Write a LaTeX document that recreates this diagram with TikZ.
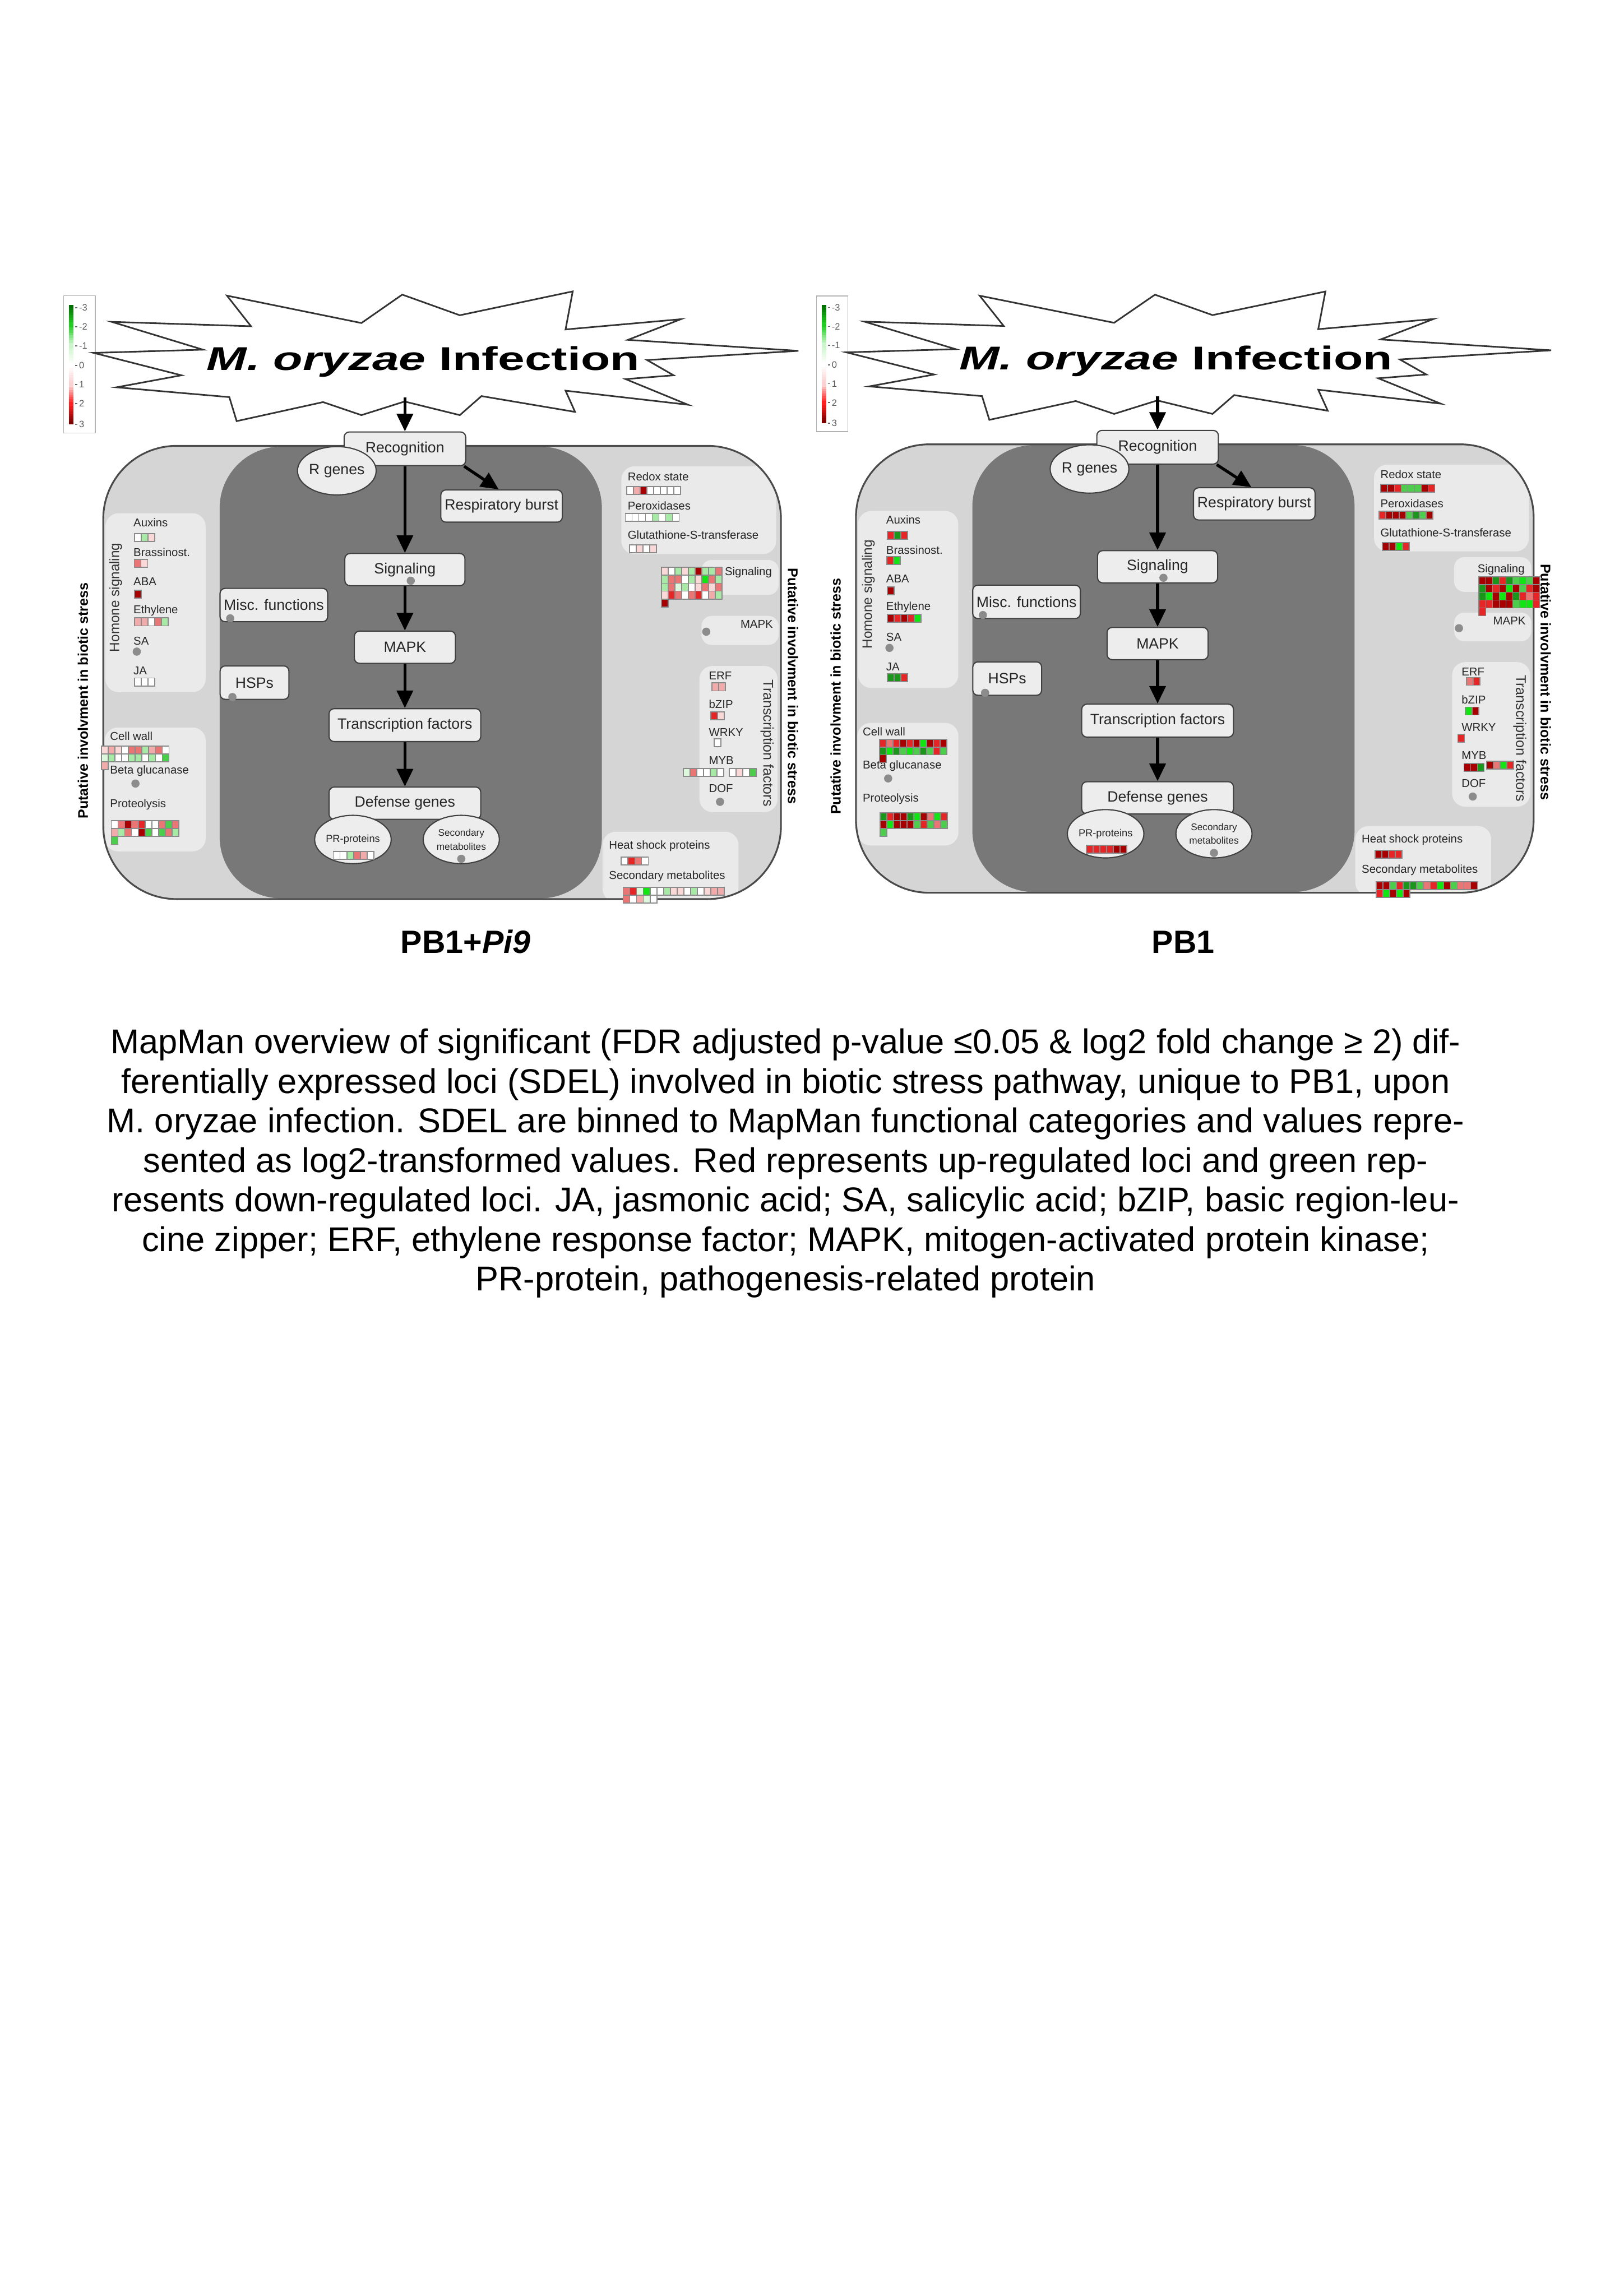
\documentclass[tikz,border=0pt]{standalone}
\usepackage{graphicx}
\usepackage{fontspec}
\setmainfont{Liberation Sans}
\usetikzlibrary{arrows.meta,shapes.geometric}
\definecolor{regL}{HTML}{D5D5D5}
\definecolor{regD}{HTML}{787878}
\definecolor{ibox}{HTML}{EAEAEA}
\definecolor{nbox}{HTML}{EDEDED}
\definecolor{edge}{HTML}{4A4A4A}
\definecolor{dotc}{HTML}{8C8C8C}
\definecolor{hmline}{HTML}{8A8A8A}
\definecolor{hW}{HTML}{FFFFFF}
\definecolor{hP1}{HTML}{FAD8D8}
\definecolor{hP2}{HTML}{F2ABAB}
\definecolor{hP3}{HTML}{EA7575}
\definecolor{hR}{HTML}{E62626}
\definecolor{hD}{HTML}{A80000}
\definecolor{hG1}{HTML}{DDF7DD}
\definecolor{hG2}{HTML}{A6EAA6}
\definecolor{hG3}{HTML}{4CCD4C}
\definecolor{hG4}{HTML}{12E612}
\definecolor{hDG}{HTML}{1A961A}
\definecolor{lgDG}{HTML}{006E00}
\definecolor{lgG}{HTML}{22CC22}
\definecolor{lgPG}{HTML}{CCF5CC}
\definecolor{lgPR}{HTML}{FAD0D0}
\definecolor{lgR}{HTML}{FF2020}
\definecolor{lgDR}{HTML}{7A0000}
\newcommand\fs[1]{\fontsize{#1}{#1}\selectfont}
\def\hmw{4.6}
\def\hmh{5.4}
\newcommand\hmrow[3]{\foreach \hmc [count=\hmi from 0] in {#3}{\filldraw[fill=\hmc,draw=hmline,line width=0.7] ({#1+\hmi*\hmw},{#2}) rectangle ++(\hmw,\hmh);}}
\newcommand\gseg[4]{\foreach \gk in {0,...,7}{\pgfmathtruncatemacro\gpct{100-\gk*100/7}\fill[#3!\gpct!#4] (47.1,{#1+\gk*(#2-#1)/8}) rectangle (50.3,{#1+(\gk+1)*(#2-#1)/8+0.25});}}
\tikzset{
  nbx/.style={draw=black!75, fill=nbox, line width=0.8, rounded corners=3.5, inner sep=0, font=\fs{10.2}, text=black!85},
  ell/.style={ellipse, draw=black!75, fill=nbox, line width=0.8, inner sep=0, text=black!85},
  lab/.style={anchor=west, inner sep=0, font=\fs{7.8}, text=black!85},
  arr/.style={-{Triangle[length=12pt,width=11pt]}, line width=2, black},
  starsh/.style={draw=black!80, line width=1.1, fill=white, line join=miter},
}
\newcommand\outershape{(70.5,304.5) rectangle (533.3,614)}
\newcommand\panel[1]{%
  % colour legend
  \draw[black!30, fill=white, line width=0.6] (43.5,202) rectangle (65,295.8);
  \gseg{208.3}{222}{lgDG}{lgG}
  \gseg{222}{236}{lgG}{lgPG}
  \gseg{236}{249.5}{lgPG}{white}
  \gseg{249.5}{263}{white}{lgPR}
  \gseg{263}{276}{lgPR}{lgR}
  \gseg{276}{289.5}{lgR}{lgDR}
  \foreach \yy/\vv [count=\li] in {210.1/-3,223.2/-2,236.2/-1,249.6/0,262.7/1,275.7/2,289.9/3}{
    \draw[black!60, line width=0.6] (51.3,\yy) -- (53,\yy);
    \node[anchor=west, inner sep=0, font=\fs{6.3}, text=black!65] (#1lg\li) at (53.8,\yy) {\vv};
  }
  % starburst
  \filldraw[starsh] (64,241) -- (138.6,238.8) -- (76.3,219.8) -- (171.4,222.8) -- (155,201.9) -- (246.8,220.6) -- (274.7,201.2) -- (314,215.3) -- (391.1,199) -- (386.2,225) -- (464.9,218) -- (428.8,232.1) -- (545.2,239.6) -- (441.9,245.9) -- (460,256.3) -- (427.2,258.9) -- (469.8,276.4) -- (386.2,266.8) -- (392.7,281.3) -- (328.8,270.5) -- (314,283.5) -- (276.3,274.2) -- (246.8,283.5) -- (220.6,274.6) -- (161.6,287.6) -- (156.6,271.2) -- (79.6,264.5) -- (123.9,256.3) -- cycle;
  \node[inner sep=0, anchor=base] (#1title) at (289,253) {\scalebox{1.46}[1]{\fs{22.5}\bfseries\textit{M. oryzae} Infection}};
  % regions
  \fill[regL, rounded corners=50] \outershape;
  \fill[regD, rounded corners=42] (150,305) rectangle (411,613.5);
  \begin{scope}
    \clip[rounded corners=50] \outershape;
    \fill[ibox, rounded corners=9] (72,350.5) rectangle (140.4,472.7);
    \fill[ibox, rounded corners=9] (71.5,496.8) rectangle (140.5,581.4);
    \fill[ibox, rounded corners=9] (424.3,318.5) rectangle (530,378.4);
    \fill[ibox, rounded corners=7] (479,382.4) rectangle (531.7,406.3);
    \fill[ibox, rounded corners=7] (479,420.6) rectangle (531.7,440.5);
    \fill[ibox, rounded corners=9] (477.6,454.8) rectangle (531,554.6);
    \fill[ibox, rounded corners=9] (411.5,568) rectangle (504.3,616);
  \end{scope}
  \draw[edge, line width=1.2, rounded corners=50] \outershape;
  % pathway boxes
  \node[nbx, minimum width=83, minimum height=23] (#1rec) at (276.5,306.5) {Recognition};
  \node[ell, minimum width=48, minimum height=33, font=\fs{10.2}] (#1rg) at (230,321.5) {R genes};
  \node[nbx, minimum width=83, minimum height=22] (#1resp) at (342.5,345.6) {Respiratory burst};
  \node[nbx, minimum width=82, minimum height=22] (#1sig) at (276.5,389) {Signaling};
  \node[nbx, minimum width=69, minimum height=22] (#1mapk) at (276.5,442) {MAPK};
  \node[nbx, minimum width=103.6, minimum height=22.5] (#1tf) at (276.5,495.2) {Transcription factors};
  \node[nbx, minimum width=103.6, minimum height=22] (#1def) at (276.5,548.5) {Defense genes};
  \node[nbx, minimum width=73.5, minimum height=22.8] (#1misc) at (187,413.2) {Misc. functions};
  \node[nbx, minimum width=47, minimum height=22.8] (#1hsp) at (173.8,466.2) {HSPs};
  \node[ell, minimum width=52, minimum height=33, font=\fs{7}] (#1pr) at (241,573.3) {PR-proteins};
  \node[ell, minimum width=52, minimum height=33, font=\fontsize{6.6}{9.5}\selectfont, align=center] (#1sec) at (315,573.3) {Secondary\\metabolites};
  % arrows
  \coordinate (#1top) at (276.5,271.5);
  \draw[arr] (#1top) -- (#1rec);
  \draw[arr] (#1rec) -- (#1sig);
  \draw[arr] (#1sig) -- (#1mapk);
  \draw[arr] (#1mapk) -- (#1tf);
  \draw[arr] (#1tf) -- (#1def);
  \draw[arr] ([xshift=-1.5pt]#1rec.south east) -- ([xshift=-2pt]#1resp.north);
  % grey dots
  \fill[dotc] (280.5,396.6) circle (2.8);
  \fill[dotc] (157.2,422.3) circle (2.8);
  \fill[dotc] (158.7,476) circle (2.8);
  \fill[dotc] (315,586.5) circle (2.8);
  \fill[dotc] (93.4,445) circle (2.8);
  \fill[dotc] (92.5,535.1) circle (2.8);
  \fill[dotc] (482.3,431.4) circle (2.8);
  \fill[dotc] (491.7,547.6) circle (2.8);
  % category labels
  \node[lab] (#1aux) at (91,356.7) {Auxins};
  \node[lab] (#1bra) at (91,377.3) {Brassinost.};
  \node[lab] (#1aba) at (91,397.2) {ABA};
  \node[lab] (#1eth) at (91,417) {Ethylene};
  \node[lab] (#1sa) at (91,437.7) {SA};
  \node[lab] (#1ja) at (91,458) {JA};
  \node[lab] (#1cw) at (75,502.7) {Cell wall};
  \node[lab] (#1bg) at (75,526.3) {Beta glucanase};
  \node[lab] (#1pro) at (75,549.3) {Proteolysis};
  \node[lab] (#1red) at (428.5,325.4) {Redox state};
  \node[lab] (#1per) at (428.5,345.3) {Peroxidases};
  \node[lab] (#1gst) at (428.5,365.3) {Glutathione-S-transferase};
  \node[lab] (#1sigl) at (494.8,390.9) {Signaling};
  \node[lab, anchor=east] (#1mapkl) at (528,426.3) {MAPK};
  \node[lab] (#1erf) at (483.9,461.5) {ERF};
  \node[lab] (#1bzip) at (483.9,480.8) {bZIP};
  \node[lab] (#1wrky) at (483.9,500) {WRKY};
  \node[lab] (#1myb) at (483.9,519.3) {MYB};
  \node[lab] (#1dof) at (483.9,538.5) {DOF};
  \node[lab] (#1hsl) at (415.7,577.6) {Heat shock proteins};
  \node[lab] (#1sml) at (415.7,598.5) {Secondary metabolites};
  \node[rotate=90, inner sep=0, font=\fs{9.3}, text=black!80] (#1hormone) at (79,408) {Homone signaling};
  \node[rotate=-90, inner sep=0, font=\fs{9.6}, text=black!80] (#1tfrot) at (523.8,507.5) {Transcription factors};
  \node[rotate=90, inner sep=0, font=\fs{9.6}\bfseries] (#1putl) at (56.6,478.5) {Putative involvment in biotic stress};
  \node[rotate=-90, inner sep=0, font=\fs{9.6}\bfseries] (#1putr) at (541.5,468.5) {Putative involvment in biotic stress};
}
\newcommand\leftmaps{%
  \hmrow{92}{364.5}{hW,hG2,hP1}
  \hmrow{91.7}{382}{hP3,hP1}
  \hmrow{92}{403}{hD}
  \hmrow{92}{422}{hP2,hP2,hW,hP3,hG2}
  \hmrow{92}{463}{hW,hW,hW}
  \hmrow{69.4}{509.5}{hP1,hP2,hP1,hW,hP3,hP3,hG2,hP2,hP3,hW}
  \hmrow{69.4}{514.9}{hG1,hG2,hW,hW,hG2,hG2,hW,hG2,hW,hG3}
  \hmrow{69.4}{520.3}{hP2}
  \hmrow{76}{560.5}{hW,hP3,hD,hP3,hR,hW,hW,hP3,hG3,hP3}
  \hmrow{76}{565.9}{hP2,hG2,hP3,hW,hD,hG3,hW,hG3,hP3,hG2}
  \hmrow{76}{571.3}{hG3}
  \hmrow{428}{332.2}{hW,hP2,hD,hW,hW,hW,hW,hW}
  \hmrow{427}{350.6}{hW,hW,hW,hW,hG2,hW,hG2,hW}
  \hmrow{429.8}{372.2}{hW,hP1,hW,hP1}
  \hmrow{451.7}{387.5}{hP1,hW,hG2,hP1,hG2,hD,hG2,hG2,hP3}
  \hmrow{451.7}{392.9}{hG2,hP3,hP3,hW,hG2,hP1,hG4,hP3,hG2}
  \hmrow{451.7}{398.3}{hG2,hP3,hG1,hG2,hW,hP1,hP3,hP1,hP3}
  \hmrow{451.7}{403.7}{hP1,hR,hP3,hW,hP3,hR,hW,hP2,hG2}
  \hmrow{451.7}{409.1}{hD}
  \hmrow{227.6}{581.4}{hW,hW,hG2,hP3,hP2,hW}
  \hmrow{486.2}{466.4}{hP2,hP2}
  \hmrow{485.4}{486.2}{hR,hP1}
  \hmrow{487.8}{504.5}{hW}
  \hmrow{466.6}{524.8}{hG1,hP3,hW,hW,hG2,hW}
  \hmrow{498}{524.8}{hW,hP1,hW,hG3}
  \hmrow{424.3}{585.2}{hW,hR,hP3,hW}
  \hmrow{425.5}{606}{hP3,hR,hG1,hG4,hW,hW,hG2,hP1,hP1,hW,hG2,hW,hP1,hP2,hP2}
  \hmrow{425.5}{611.4}{hP3,hW,hP2,hG1,hW}
}
\newcommand\rightmaps{%
  \hmrow{92}{364.5}{hR,hDG,hR}
  \hmrow{91.7}{382}{hR,hG4}
  \hmrow{92}{403}{hD}
  \hmrow{92}{422}{hD,hR,hD,hR,hG4}
  \hmrow{92}{463}{hDG,hDG,hR}
  \hmrow{86.7}{508}{hR,hP3,hR,hD,hR,hD,hG4,hD,hR,hD}
  \hmrow{86.7}{513.4}{hDG,hG4,hDG,hG3,hG4,hG3,hDG,hG3,hR,hG3}
  \hmrow{86.7}{518.8}{hD}
  \hmrow{87}{558.9}{hDG,hR,hD,hD,hDG,hG4,hD,hP3,hG4,hR}
  \hmrow{87}{564.3}{hD,hG4,hD,hD,hD,hG3,hR,hG3,hP3,hG3}
  \hmrow{87}{569.7}{hG3}
  \hmrow{429}{332.2}{hD,hD,hR,hG3,hG3,hG3,hD,hR}
  \hmrow{427.6}{350.6}{hR,hD,hD,hD,hG3,hDG,hG3,hD}
  \hmrow{430}{372.2}{hD,hD,hG4,hR}
  \hmrow{496}{395.8}{hD,hD,hDG,hR,hDG,hG3,hG4,hG3,hD}
  \hmrow{496}{401.2}{hDG,hD,hR,hD,hG4,hD,hG3,hR,hD}
  \hmrow{496}{406.6}{hDG,hG4,hD,hG4,hD,hDG,hR,hP3,hR}
  \hmrow{496}{412}{hR,hR,hD,hD,hD,hG3,hG4,hG4,hR}
  \hmrow{496}{417.4}{hR}
  \hmrow{227.8}{581.4}{hR,hR,hR,hR,hD,hD}
  \hmrow{487.5}{465.4}{hP3,hR}
  \hmrow{486.6}{485.9}{hG4,hD}
  \hmrow{481.5}{504.8}{hR}
  \hmrow{485.7}{524.8}{hD,hD,hDG}
  \hmrow{501.1}{523.2}{hD,hP3,hG4,hR}
  \hmrow{425}{584.8}{hD,hD,hR,hR}
  \hmrow{425.9}{606.4}{hD,hD,hG3,hR,hDG,hDG,hG3,hP3,hR,hG4,hD,hG3,hP3,hP3,hD}
  \hmrow{425.9}{611.8}{hR,hG4,hD,hG4,hD}
}
\newcommand\capfont{\fontsize{23.5}{27}\selectfont}
\begin{document}
\begin{tikzpicture}[x=1pt,y=-1pt]
\useasboundingbox (0,0) rectangle (1109,1568);
\fill[white] (0,0) rectangle (1109,1568);
\panel{L}
\leftmaps
\begin{scope}[shift={(514,2.18)},yscale=0.9894]
\panel{R}
\rightmaps
\end{scope}
\node[anchor=base, inner sep=0, font=\fs{22}\bfseries] (lblL) at (318,651) {PB1+\textit{Pi9}};
\node[anchor=base, inner sep=0, font=\fs{22}\bfseries] (lblR) at (808,651) {PB1};
\node[anchor=base, inner sep=0, font=\capfont] (cap1) at (536.5,719.5) {MapMan overview of significant (FDR adjusted p-value ≤0.05 \& log2 fold change ≥ 2) dif-};
\node[anchor=base, inner sep=0, font=\capfont] (cap2) at (536.5,746.5) {ferentially expressed loci (SDEL) involved in biotic stress pathway, unique to PB1, upon};
\node[anchor=base, inner sep=0, font=\capfont] (cap3) at (536.5,773.5) {M. oryzae infection. SDEL are binned to MapMan functional categories and values repre-};
\node[anchor=base, inner sep=0, font=\capfont] (cap4) at (536.5,800.5) {sented as log2-transformed values. Red represents up-regulated loci and green rep-};
\node[anchor=base, inner sep=0, font=\capfont] (cap5) at (536.5,827.5) {resents down-regulated loci. JA, jasmonic acid; SA, salicylic acid; bZIP, basic region-leu-};
\node[anchor=base, inner sep=0, font=\capfont] (cap6) at (536.5,854.5) {cine zipper; ERF, ethylene response factor; MAPK, mitogen-activated protein kinase;};
\node[anchor=base, inner sep=0, font=\capfont] (cap7) at (536.5,881.5) {PR-protein, pathogenesis-related protein};
\end{tikzpicture}
\end{document}
